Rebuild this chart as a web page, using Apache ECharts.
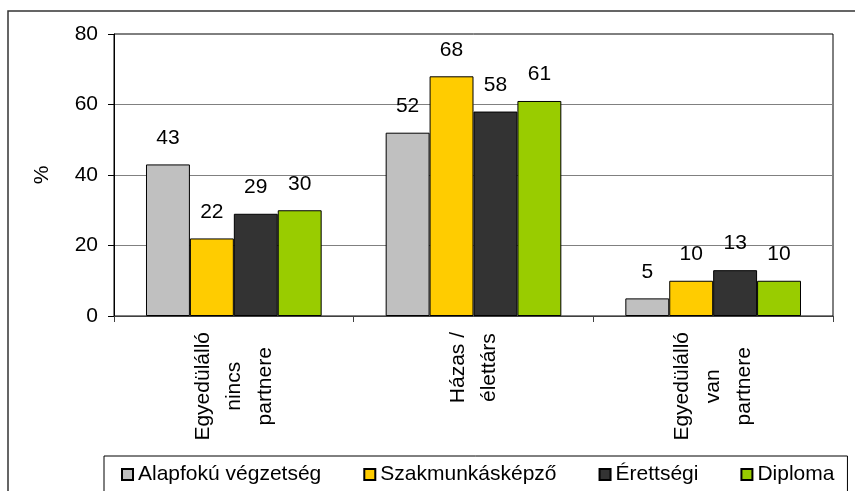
<!DOCTYPE html>
<html>
<head>
<meta charset="utf-8">
<script src="https://cdn.jsdelivr.net/npm/echarts@6/dist/echarts.min.js"></script>
<style>
  html, body { margin: 0; padding: 0; background: #fff; }
  #chart { width: 855px; height: 491px; }
</style>
</head>
<body>
<div id="chart"></div>
<script>
const categories = ['Egyedülálló\nnincs\npartnere', 'Házas /\nélettárs', 'Egyedülálló\nvan\npartnere']
const seriesNames = ['Alapfokú végzetség', 'Szakmunkásképző', 'Érettségi', 'Diploma']
const alapfoku = [43, 52, 5]
const szakmunkas = [22, 68, 10]
const erettsegi = [29, 58, 13]
const diploma = [30, 61, 10]
const seriesColors = ['#C0C0C0', '#FFCC00', '#333333', '#99CC00']

const font = '"Liberation Sans", Arial, sans-serif'
const chart = echarts.init(document.getElementById('chart'))

const values = [alapfoku, szakmunkas, erettsegi, diploma]

chart.setOption({
  animation: false,
  backgroundColor: '#fff',
  textStyle: { fontFamily: font },
  graphic: [{
    type: 'rect',
    z: -10,
    shape: { x: 8, y: 11, width: 900, height: 600 },
    style: { fill: 'none', stroke: '#333', lineWidth: 1.5 }
  }],
  grid: {
    left: 114,
    right: 22,
    top: 34,
    bottom: 175,
    show: true,
    borderColor: '#000',
    borderWidth: 1
  },
  legend: {
    left: 104,
    top: 456,
    padding: [8, 13, 40, 17],
    borderColor: '#000',
    borderWidth: 1,
    itemWidth: 11,
    itemHeight: 11,
    itemGap: 42,
    icon: 'rect',
    textStyle: { fontSize: 21, color: '#000', fontFamily: font },
    data: seriesNames
  },
  xAxis: {
    type: 'category',
    data: categories,
    axisLine: { lineStyle: { color: '#404040', width: 1 } },
    axisTick: { show: true, length: 6, lineStyle: { color: '#404040' } },
    axisLabel: {
      rotate: 90,
      margin: 16,
      color: '#000',
      formatter: v => v.split('\n').map(s => '{c|' + s + '}').join('\n'),
      rich: {
        c: { align: 'center', fontSize: 21, lineHeight: 31, fontFamily: font, color: '#000' }
      }
    }
  },
  yAxis: {
    type: 'value',
    min: 0,
    max: 80,
    interval: 20,
    name: '%',
    nameLocation: 'middle',
    nameGap: 61,
    nameRotate: 90,
    nameTextStyle: { fontSize: 21, color: '#000', fontFamily: font },
    axisLine: { show: true, lineStyle: { color: '#000' } },
    axisTick: { show: true, length: 6, lineStyle: { color: '#000' } },
    axisLabel: { fontSize: 21, color: '#000', margin: 16, fontFamily: font },
    splitLine: {
      show: true,
      showMinLine: false,
      showMaxLine: false,
      lineStyle: { color: '#808080', width: 1 }
    }
  },
  series: seriesNames.map((name, i) => ({
    name: name,
    type: 'bar',
    data: values[i],
    barGap: 0,
    barCategoryGap: '26.7%',
    itemStyle: { color: seriesColors[i], borderColor: '#000', borderWidth: 1 },
    label: {
      show: true,
      position: 'top',
      distance: 16,
      fontSize: 21,
      color: '#000',
      fontFamily: font
    }
  }))
})
</script>
</body>
</html>
